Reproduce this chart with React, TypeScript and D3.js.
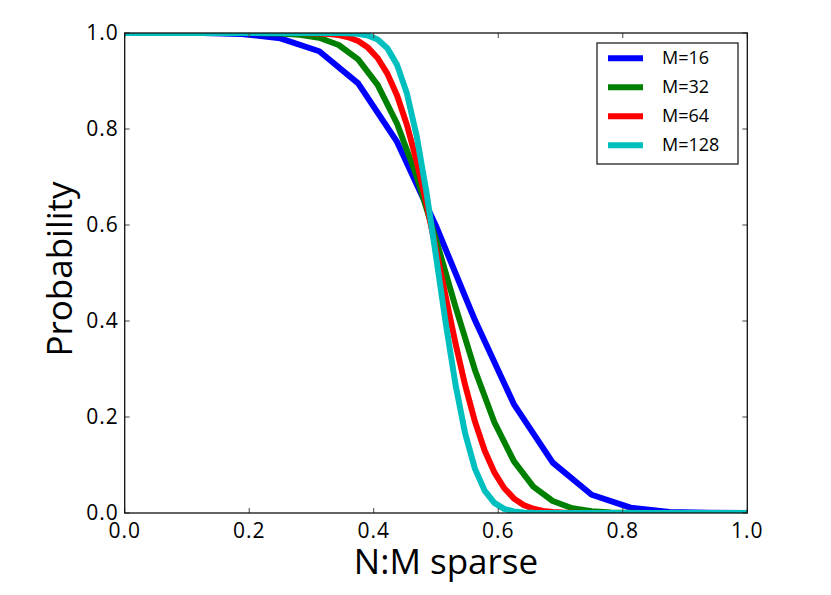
import React, { useEffect, useRef } from 'react';
import * as d3 from 'd3';

// P(success) sampled at x = k/M for each block size M
const m16Values = [1, 1, 1, 0.998, 0.989, 0.962, 0.895, 0.773, 0.598, 0.402, 0.227, 0.105, 0.038, 0.011, 0.002, 0.0003, 0];

const m32Values = [
  1, 1, 1, 1, 1, 1, 0.99995, 0.9997, 0.999, 0.9965, 0.99, 0.975, 0.945, 0.892, 0.811, 0.702,
  0.57, 0.43, 0.298, 0.189, 0.108, 0.055, 0.025, 0.01, 0.0035, 0.001, 0.0003, 0.00006, 0.00001, 0, 0, 0, 0,
];

const m64Values = [
  1, 1, 1, 1, 1, 1, 1, 1, 1, 1, 1, 1, 1, 1, 1, 1,
  1, 1, 0.9999, 0.9996, 0.9991, 0.998, 0.9957, 0.9912, 0.9832, 0.9696, 0.9479, 0.9154, 0.8697, 0.8092, 0.734, 0.6462,
  0.5497, 0.4503, 0.3538, 0.266, 0.1908, 0.1303, 0.0846, 0.0521, 0.0304, 0.0168, 0.0088, 0.0043, 0.002, 0.0009, 0.0004, 0.0001,
  0, 0, 0, 0, 0, 0, 0, 0, 0, 0, 0, 0, 0, 0, 0, 0, 0,
];

// M=128, read every second sample (step 1/64)
const m128Values = [
  1, 1, 1, 1, 1, 1, 1, 1, 1, 1, 1, 1, 1, 1, 1, 1,
  1, 1, 1, 1, 1, 1, 0.9999, 0.9995, 0.9982, 0.9948, 0.9864, 0.9683, 0.9336, 0.8747, 0.7867, 0.6707,
  0.5352, 0.3955, 0.268, 0.1655, 0.0924, 0.0466, 0.021, 0.0085, 0.0031, 0.001, 0.0003, 0.0001, 0, 0, 0, 0,
  0, 0, 0, 0, 0, 0, 0, 0, 0, 0, 0, 0, 0, 0, 0, 0, 0,
];

const seriesNames = ['M=16', 'M=32', 'M=64', 'M=128'];
const seriesColors = ['#0000ff', '#008000', '#ff0000', '#00bfbf'];
const tickValues = [0, 0.2, 0.4, 0.6, 0.8, 1.0];

const W = 831;
const H = 595;
const margin = { left: 124.7, right: 831 - 747.3, top: 33, bottom: 595 - 513 };
const FONT = '"Open Sans", sans-serif';

const App: React.FC = () => {
  const svgRef = useRef<SVGSVGElement>(null);

  useEffect(() => {
    if (!svgRef.current) return;
    const svg = d3.select(svgRef.current);
    svg.selectAll('*').remove();

    const x = d3.scaleLinear().domain([0, 1]).range([margin.left, W - margin.right]);
    const y = d3.scaleLinear().domain([0, 1]).range([H - margin.bottom, margin.top]);

    svg.append('defs').append('clipPath').attr('id', 'plot-clip')
      .append('rect')
      .attr('x', x(0)).attr('y', y(1))
      .attr('width', x(1) - x(0)).attr('height', y(0) - y(1));

    // Curves
    const line = d3.line<number>()
      .x((_, i, arr) => x(i / (arr.length - 1)))
      .y(d => y(d));

    const allSeries = [m16Values, m32Values, m64Values, m128Values];
    const g = svg.append('g').attr('clip-path', 'url(#plot-clip)');
    allSeries.forEach((vals, i) => {
      g.append('path')
        .attr('d', line(vals))
        .attr('fill', 'none')
        .attr('stroke', seriesColors[i])
        .attr('stroke-width', 6)
        .attr('stroke-linejoin', 'round');
    });

    // Ticks pointing inward on all four sides
    const tickLen = 5;
    const ticks = svg.append('g').attr('stroke', '#444').attr('stroke-width', 1);
    tickValues.forEach(t => {
      ticks.append('line').attr('x1', x(t)).attr('x2', x(t)).attr('y1', y(0)).attr('y2', y(0) - tickLen);
      ticks.append('line').attr('x1', x(t)).attr('x2', x(t)).attr('y1', y(1)).attr('y2', y(1) + tickLen);
      ticks.append('line').attr('y1', y(t)).attr('y2', y(t)).attr('x1', x(0)).attr('x2', x(0) + tickLen);
      ticks.append('line').attr('y1', y(t)).attr('y2', y(t)).attr('x1', x(1)).attr('x2', x(1) - tickLen);
    });

    // Frame
    svg.append('rect')
      .attr('x', x(0)).attr('y', y(1))
      .attr('width', x(1) - x(0)).attr('height', y(0) - y(1))
      .attr('fill', 'none').attr('stroke', '#111').attr('stroke-width', 1.3);

    // Tick labels
    tickValues.forEach(t => {
      svg.append('text')
        .attr('x', x(t)).attr('y', y(0) + 24.5)
        .attr('text-anchor', 'middle')
        .attr('font-family', FONT).attr('font-size', 21)
        .attr('letter-spacing', 1)
        .text(d3.format('.1f')(t));
      svg.append('text')
        .attr('x', x(0) - 6).attr('y', y(t) + 7)
        .attr('text-anchor', 'end')
        .attr('font-family', FONT).attr('font-size', 21)
        .attr('letter-spacing', 1)
        .text(d3.format('.1f')(t));
    });

    // Axis titles
    svg.append('text')
      .attr('x', 446).attr('y', 573.5)
      .attr('text-anchor', 'middle')
      .attr('font-family', FONT).attr('font-size', 35)
      .text('N:M sparse');
    svg.append('text')
      .attr('transform', `translate(72, 269) rotate(-90)`)
      .attr('text-anchor', 'middle')
      .attr('font-family', FONT).attr('font-size', 35)
      .text('Probability');

    // Legend
    const lg = svg.append('g');
    lg.append('rect')
      .attr('x', 597).attr('y', 43).attr('width', 141).attr('height', 121)
      .attr('fill', '#fff').attr('stroke', '#222').attr('stroke-width', 1.3);
    seriesNames.forEach((name, i) => {
      const ly = 58.3 + i * 29;
      lg.append('line')
        .attr('x1', 608).attr('x2', 643).attr('y1', ly).attr('y2', ly)
        .attr('stroke', seriesColors[i]).attr('stroke-width', 6);
      lg.append('text')
        .attr('x', 662).attr('y', ly + 6)
        .attr('font-family', FONT).attr('font-size', 18)
        .text(name);
    });
  }, []);

  return (
    <svg
      ref={svgRef}
      width={W}
      height={H}
      viewBox={`0 0 ${W} ${H}`}
      style={{ position: 'absolute', left: 0, top: 0, background: '#fff' }}
    />
  );
};

export default App;
